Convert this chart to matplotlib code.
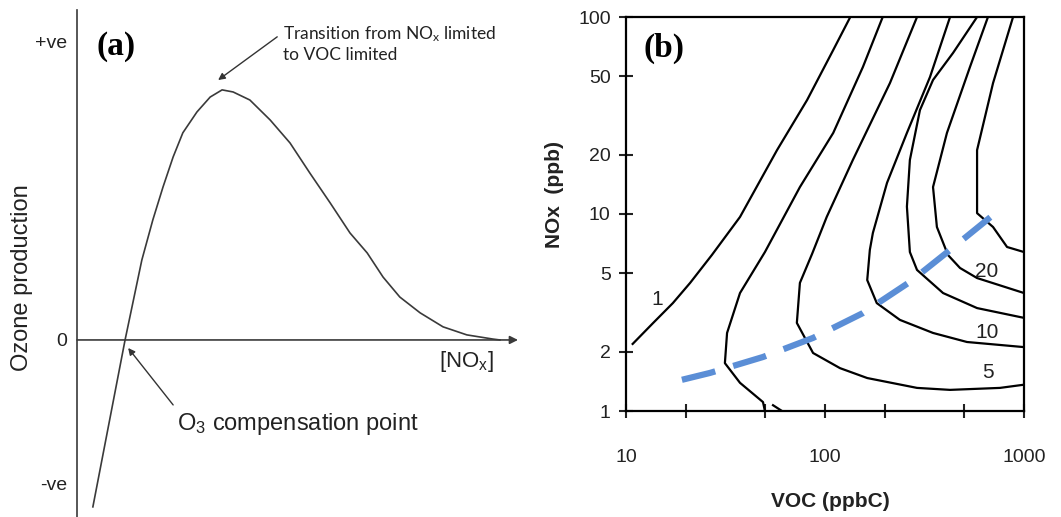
import matplotlib.pyplot as plt

plt.rcParams['font.family'] = ['Liberation Sans', 'DejaVu Sans']
plt.rcParams['mathtext.default'] = 'regular'

# ---------------- panel (a): schematic ozone production vs [NOx] -------------
nox_a = [0.036, 0.109, 0.147, 0.172, 0.195, 0.218, 0.240, 0.272, 0.302, 0.329,
         0.354, 0.392, 0.438, 0.483, 0.528, 0.574, 0.619, 0.658, 0.694, 0.732,
         0.778, 0.830, 0.884, 0.943, 0.959]
o3_a = [-0.560, 0.0, 0.268, 0.403, 0.513, 0.614, 0.695, 0.765, 0.815, 0.839,
        0.832, 0.805, 0.738, 0.661, 0.560, 0.460, 0.359, 0.292, 0.211, 0.144,
        0.091, 0.044, 0.017, 0.003, 0.0]
ytick_pos_a = [-0.483, 0.0, 1.0]
ytick_lab_a = ['-ve', '0', '+ve']

# ---------------- panel (b): ozone isopleths, VOC (ppbC) vs NOx (ppb) -------
iso1_voc = [10.8, 13.7, 17.2, 21.0, 27.0, 37.4, 57.4, 81.3, 110, 134]
iso1_nox = [2.19, 2.80, 3.53, 4.47, 6.19, 9.66, 21.1, 37.9, 68.0, 100]

iso2_voc = [49.9, 48.8, 37.4, 31.4, 32.2, 37.4, 49.9, 74.8, 110, 155, 195]
iso2_nox = [1.0, 1.11, 1.39, 1.75, 2.49, 3.97, 6.41, 13.7, 25.8, 55.7, 100]

iso2b_voc = [54.8, 60.8]
iso2b_nox = [1.07, 1.0]

iso5_voc = [290, 212, 138, 102, 86.1, 74.8, 72.2, 87.1, 119, 163, 290, 425, 757, 1000]
iso5_nox = [100, 46.2, 18.8, 9.66, 6.27, 4.47, 2.80, 1.97, 1.65, 1.47, 1.31, 1.28, 1.31, 1.36]

iso10_voc = [425, 337, 258, 205, 174, 168, 163, 182, 238, 349, 517, 1000]
iso10_nox = [100, 49.6, 25.8, 14.4, 8.01, 6.57, 4.62, 3.53, 2.90, 2.49, 2.24, 2.11]

iso15_voc = [581, 440, 349, 300, 267, 258, 267, 290, 392, 581, 1000]
iso15_nox = [100, 65.7, 47.9, 33.7, 18.8, 10.9, 6.41, 5.20, 3.97, 3.33, 2.97]

iso20_voc = [659, 535, 410, 349, 365, 415, 477, 581, 1000]
iso20_nox = [100, 55.7, 25.8, 13.7, 8.59, 6.19, 5.32, 4.73, 3.97]

iso30_voc = [881, 699, 581, 581, 699, 822, 1000]
iso30_nox = [100, 46.2, 21.1, 10.1, 8.59, 6.80, 6.41]

ridge_voc = [19.1, 26.4, 48.8, 87.1, 155, 267, 425, 699]
ridge_nox = [1.44, 1.56, 1.88, 2.35, 3.14, 4.52, 6.57, 9.88]

iso_labels = ['1', '5', '10', '20']
iso_label_voc = [14.3, 659, 652, 652]
iso_label_nox = [3.66, 1.56, 2.49, 5.08]

xticks_b = [10, 20, 50, 100, 200, 500, 1000]
xtick_lab_b = ['10', '', '', '100', '', '', '1000']
yticks_b = [1, 2, 5, 10, 20, 50, 100]
ytick_lab_b = ['1', '2', '5', '10', '20', '50', '100']

fig = plt.figure(figsize=(10.61, 5.17), dpi=100)

# ---- panel (a)
axa = fig.add_axes([77 / 1061, 0.0, 441 / 1061, 507 / 517])
axa.plot(nox_a, o3_a, color='#3a3a3a', lw=1.2, solid_joinstyle='round')
axa.set_xlim(0, 1.0)
axa.set_ylim(-0.594, 1.107)
for s in ['top', 'right', 'bottom']:
    axa.spines[s].set_visible(False)
axa.spines['left'].set_color('#3a3a3a')
axa.spines['left'].set_linewidth(1.2)
axa.set_xticks([])
axa.set_yticks(ytick_pos_a, ytick_lab_a, fontsize=14)
axa.tick_params(axis='y', length=0, pad=7, colors='#222222')
axa.annotate('', xy=(1.0, 0), xytext=(0, 0),
             arrowprops=dict(arrowstyle='-|>', color='#3a3a3a', lw=1.2,
                             mutation_scale=12, shrinkA=0, shrinkB=0))
axa.set_ylabel('Ozone production', fontsize=17, color='#222222')
axa.yaxis.set_label_coords(-0.125, 0.473)
axa.yaxis.label.set_va('center')

axa.text(0.884, -0.091, '[NO$_x$]', fontsize=16, ha='center', va='baseline',
         color='#222222')
axa.text(0.227, -0.302, 'O$_3$ compensation point', fontsize=17, ha='left',
         va='baseline', color='#222222')
axa.annotate('', xy=(0.116, -0.027), xytext=(0.218, -0.218),
             arrowprops=dict(arrowstyle='-|>', color='#333333', lw=1.0,
                             mutation_scale=10, shrinkA=0, shrinkB=0))
axa.text(0.467, 0.993, 'Transition from NO$_x$ limited\nto VOC limited',
         fontsize=12.5, family=['Lato', 'DejaVu Sans'], ha='left', va='center',
         linespacing=1.25, color='#222222')
axa.annotate('', xy=(0.320, 0.872), xytext=(0.454, 1.017),
             arrowprops=dict(arrowstyle='-|>', color='#333333', lw=1.0,
                             mutation_scale=10, shrinkA=0, shrinkB=0))
axa.text(0.045, 0.983, '(a)', fontsize=24, fontweight='bold',
         family=['Liberation Serif'], ha='left', va='center')

# ---- panel (b)
axb = fig.add_axes([626 / 1061, 106 / 517, 398 / 1061, 394 / 517])
axb.set_xscale('log')
axb.set_yscale('log')
iso_sets = [(iso1_voc, iso1_nox), (iso2_voc, iso2_nox), (iso2b_voc, iso2b_nox),
            (iso5_voc, iso5_nox), (iso10_voc, iso10_nox), (iso15_voc, iso15_nox),
            (iso20_voc, iso20_nox), (iso30_voc, iso30_nox)]
for v, n in iso_sets:
    axb.plot(v, n, color='black', lw=1.6, solid_joinstyle='round')
axb.plot(ridge_voc, ridge_nox, color='#5b8ed6', lw=4.5, dashes=(5.5, 3.0),
         solid_capstyle='butt', dash_capstyle='butt')
for lab, v, n in zip(iso_labels, iso_label_voc, iso_label_nox):
    axb.text(v, n, lab, fontsize=15, ha='center', va='center', color='#222222')

axb.set_xlim(10, 1000)
axb.set_ylim(1, 100)
axb.set_xticks(xticks_b, xtick_lab_b)
axb.set_yticks(yticks_b, ytick_lab_b)
axb.minorticks_off()
axb.tick_params(axis='both', direction='inout', length=10, width=1.5,
                labelsize=14, colors='#222222')
axb.tick_params(axis='x', pad=22)
axb.tick_params(axis='y', pad=6)
for s in axb.spines.values():
    s.set_linewidth(1.6)
axb.set_xlabel('VOC (ppbC)', fontsize=15, fontweight='bold', color='#222222')
axb.xaxis.set_label_coords(0.513, -0.205)
axb.set_ylabel('NOx  (ppb)', fontsize=15, fontweight='bold', color='#222222')
axb.yaxis.set_label_coords(-0.18, 0.55)
axb.yaxis.label.set_va('center')
axb.text(0.043, 0.921, '(b)', transform=axb.transAxes, fontsize=24,
         fontweight='bold', family=['Liberation Serif'], ha='left', va='center')

fig.savefig('out.png', dpi=100)
